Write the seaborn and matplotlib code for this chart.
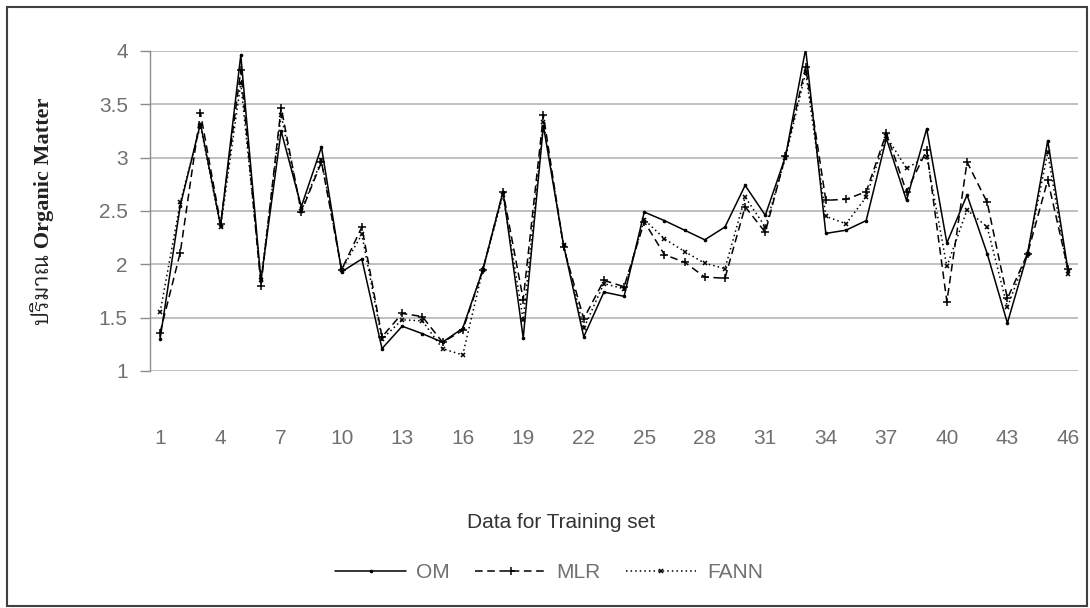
import matplotlib
matplotlib.use("Agg")
import matplotlib.pyplot as plt
import seaborn as sns
from matplotlib.patches import Rectangle

# Values (46 training samples)
sample_no = list(range(1, 47))
om = [1.30, 2.55, 3.32, 2.36, 3.96, 1.85, 3.25, 2.54, 3.10, 1.93,
      2.05, 1.21, 1.42, 1.35, 1.27, 1.40, 1.95, 2.68, 1.31, 3.30,
      2.18, 1.32, 1.74, 1.70, 2.49, 2.41, 2.32, 2.23, 2.35, 2.74,
      2.46, 3.01, 4.02, 2.29, 2.32, 2.41, 3.18, 2.60, 3.27, 2.20,
      2.65, 2.10, 1.45, 2.10, 3.16, 1.95]
mlr = [1.36, 2.11, 3.42, 2.38, 3.82, 1.80, 3.47, 2.49, 2.96, 1.95,
       2.35, 1.32, 1.54, 1.51, 1.27, 1.38, 1.95, 2.68, 1.67, 3.40,
       2.16, 1.49, 1.85, 1.79, 2.40, 2.09, 2.02, 1.88, 1.87, 2.54,
       2.30, 3.02, 3.85, 2.60, 2.61, 2.68, 3.23, 2.68, 3.07, 1.65,
       2.96, 2.58, 1.68, 2.10, 2.79, 1.96]
fann = [1.55, 2.58, 3.30, 2.35, 3.70, 1.85, 3.40, 2.50, 2.98, 1.95,
        2.28, 1.30, 1.48, 1.47, 1.21, 1.15, 1.95, 2.65, 1.48, 3.33,
        2.18, 1.40, 1.82, 1.77, 2.42, 2.24, 2.12, 2.01, 1.96, 2.63,
        2.35, 3.00, 3.80, 2.45, 2.38, 2.63, 3.20, 2.90, 3.01, 1.98,
        2.51, 2.35, 1.60, 2.10, 3.05, 1.91]
x_ticks = list(range(1, 47, 3))
y_ticks = [1, 1.5, 2, 2.5, 3, 3.5, 4]
y_tick_labels = ["1", "1.5", "2", "2.5", "3", "3.5", "4"]

sns.set_theme(style="white")
plt.rcParams['font.family'] = ['Liberation Sans', 'DejaVu Sans']

W, H = 1090, 608
fig = plt.figure(figsize=(W / 100, H / 100), dpi=100)
ax = fig.add_axes([150 / W, 1 - 371 / H, 928 / W, 320 / H])

# three series (seaborn paints marker edges white by default, so set them)
sns.lineplot(x=sample_no, y=om, ax=ax, color="black", linewidth=1.1,
             linestyle="-", marker="o", markersize=1.8,
             markeredgecolor="black", markeredgewidth=0.8, label="OM")
sns.lineplot(x=sample_no, y=mlr, ax=ax, color="black", linewidth=1.1,
             linestyle=(0, (5, 3)), marker="+", markersize=6,
             markeredgecolor="black", markeredgewidth=1.1, label="MLR")
sns.lineplot(x=sample_no, y=fann, ax=ax, color="black", linewidth=1.1,
             linestyle=(0, (1, 2)), marker="x", markersize=3.5,
             markeredgecolor="black", markeredgewidth=1.1, label="FANN")

ax.set_xlim(0.5, 46.5)
ax.set_ylim(1, 4)
ax.set_xticks(x_ticks)
ax.set_yticks(y_ticks)
ax.set_yticklabels(y_tick_labels)
ax.grid(axis="y", color="#b4b4b4", linewidth=1.2)
ax.set_axisbelow(True)

for side in ["top", "right", "bottom"]:
    ax.spines[side].set_visible(False)
ax.spines["left"].set_color("#8c8c8c")
ax.spines["left"].set_linewidth(1.0)

ax.tick_params(axis="x", length=0, pad=42, labelsize=15, labelcolor="#707070")
ax.tick_params(axis="y", direction="out", length=7, width=1.0, color="#8c8c8c",
               left=True, pad=9, labelsize=15, labelcolor="#707070")

ax.set_xlabel("Data for Training set", fontsize=15, color="#333333")
ax.xaxis.set_label_coords((561 - 150) / 928, (371 - 513) / 320)

ax.set_ylabel("ปริมาณ Organic Matter", fontsize=16, fontweight="bold",
              family=["Liberation Serif", "Noto Serif Thai", "Noto Sans Thai",
                      "Loma", "Garuda", "DejaVu Sans"],
              color="#222222", va="center")
ax.yaxis.set_label_coords((42 - 150) / 928, (371 - 211) / 320)

# legend at the bottom
handles, labels = ax.get_legend_handles_labels()
ax.get_legend().remove()
fig.legend(handles, labels, loc="center", bbox_to_anchor=(549 / W, 1 - 573 / H),
           ncol=3, frameon=False, fontsize=15, labelcolor="#707070",
           handlelength=3.4, handletextpad=0.5, columnspacing=1.2)

# chart border
fig.patches.append(Rectangle((7 / W, 2 / H), 1080 / W, 599 / H,
                             transform=fig.transFigure, fill=False,
                             edgecolor="#404040", linewidth=1.5))

fig.savefig("out.png", dpi=100)
